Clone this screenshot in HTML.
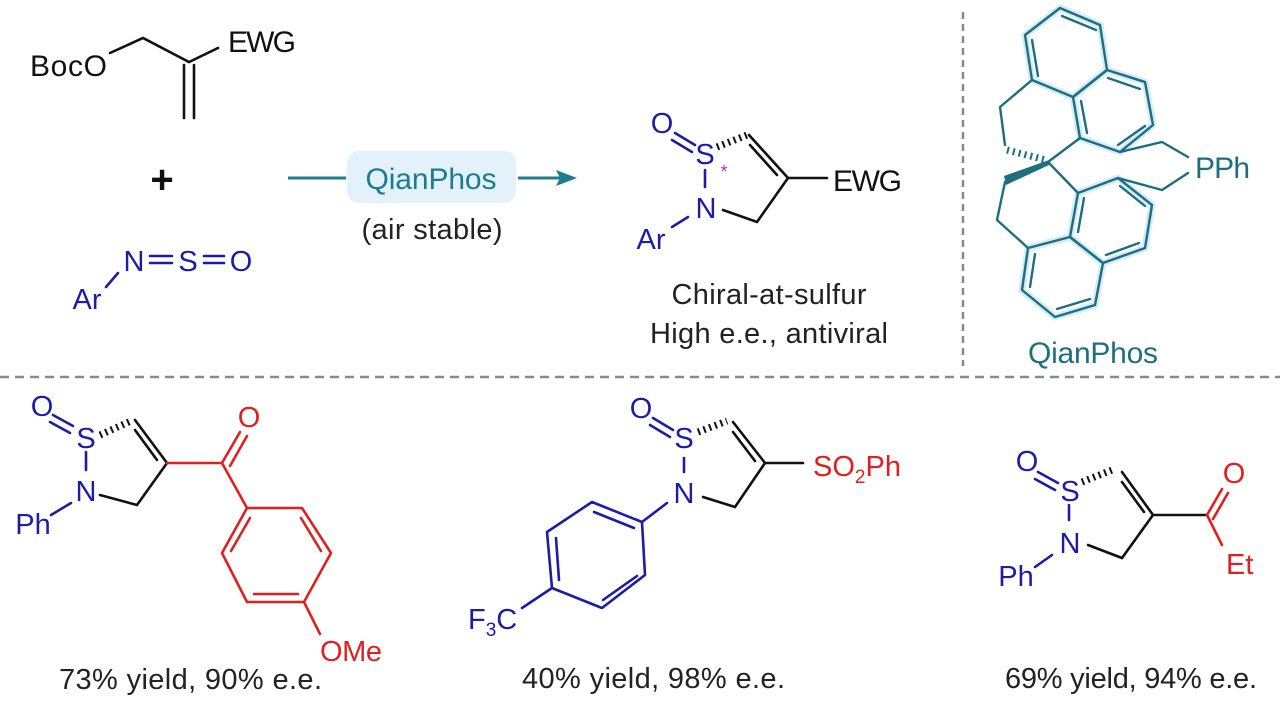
<!DOCTYPE html>
<html><head><meta charset="utf-8"><style>
html,body{margin:0;padding:0;background:#fff;}
svg{display:block;}
text{font-family:"Liberation Sans",Arial,sans-serif;}
</style></head><body>
<svg width="1280" height="710" viewBox="0 0 1280 710" xmlns="http://www.w3.org/2000/svg">
<!-- dividers -->
<line x1="963" y1="12" x2="963" y2="366" stroke="#8a8a8a" stroke-width="2.5" stroke-dasharray="7,5"/>
<line x1="0" y1="377" x2="1280" y2="377" stroke="#8a8a8a" stroke-width="2.5" stroke-dasharray="9,6"/>

<!-- starting allyl carbonate -->
<g stroke="#111" stroke-width="2.6" fill="none" stroke-linecap="round">
<polyline points="110,53 143,38 189,62 218,48"/>
<line x1="184" y1="65" x2="184" y2="118"/>
<line x1="194" y1="65" x2="194" y2="118"/>
</g>
<text x="30" y="76" font-size="30" fill="#111" textLength="77">BocO</text>
<text x="228" y="52" font-size="30" fill="#111" textLength="68">EWG</text>
<text x="162" y="193" font-size="40" fill="#111" text-anchor="middle" font-weight="bold">+</text>

<!-- N=S=O -->
<g fill="#1c1ca6" font-size="29" text-anchor="middle">
<text x="134" y="271">N</text><text x="188" y="271">S</text><text x="241" y="271">O</text>
<text x="87" y="309">Ar</text>
</g>
<g stroke="#1c1ca6" stroke-width="2.6" stroke-linecap="round">
<line x1="150" y1="256" x2="172" y2="256"/><line x1="150" y1="263" x2="172" y2="263"/>
<line x1="204" y1="256" x2="224" y2="256"/><line x1="204" y1="263" x2="224" y2="263"/>
<line x1="106" y1="287" x2="118" y2="273"/>
</g>

<!-- arrow -->
<line x1="288" y1="178" x2="346" y2="178" stroke="#1f7b8f" stroke-width="3"/>
<rect x="347" y="151" width="169" height="52" rx="12" fill="#e3f2fa"/>
<text x="431" y="189" font-size="30" fill="#1f7b8f" text-anchor="middle" textLength="131">QianPhos</text>
<line x1="518" y1="178" x2="560" y2="178" stroke="#1f7b8f" stroke-width="3"/>
<polygon points="577,178 556,170 560,178 556,186" fill="#1f7b8f"/>
<text x="432" y="239" font-size="29" fill="#222" text-anchor="middle" textLength="141">(air stable)</text>

<!-- product top -->
<g stroke="#1c1ca6" stroke-width="2.6" stroke-linecap="round">
<line x1="675" y1="133" x2="695" y2="145"/><line x1="672" y1="140" x2="692" y2="152"/>
<line x1="705" y1="170" x2="705" y2="187"/>
<line x1="672" y1="227" x2="688" y2="217"/>
</g>
<line x1="717" y1="147" x2="747" y2="135" stroke="#111" stroke-width="7" stroke-dasharray="2,4"/>
<g stroke="#111" stroke-width="2.6" stroke-linecap="round" fill="none">
<line x1="749" y1="135" x2="788" y2="178"/>
<line x1="750" y1="145" x2="777" y2="175"/>
<line x1="788" y1="178" x2="827" y2="178"/>
<polyline points="788,178 757,222 723,210"/>
</g>
<g fill="#1c1ca6" font-size="29" text-anchor="middle">
<text x="662" y="133">O</text><text x="705" y="164">S</text><text x="706" y="218">N</text>
<text x="651" y="249">Ar</text>
</g>
<text x="724" y="178" font-size="18" fill="#c0309a" text-anchor="middle">*</text>
<text x="833" y="191" font-size="30" fill="#111" textLength="69">EWG</text>
<text x="769" y="304" font-size="29" fill="#222" text-anchor="middle" textLength="195">Chiral-at-sulfur</text>
<text x="769" y="343" font-size="29" fill="#222" text-anchor="middle" textLength="238">High e.e., antiviral</text>

<!-- QianPhos structure -->
<g stroke="#d4ecf5" stroke-width="7" fill="none" stroke-linejoin="round" stroke-linecap="round">
<polygon points="1060,8 1100,25 1107,70 1073,97 1032,80 1025,35"/>
<polygon points="1107,70 1145,82 1153,125 1120,152 1080,138 1073,97"/>
<polygon points="1078,193 1118,178 1152,205 1145,248 1103,263 1070,237"/>
<polygon points="1070,237 1028,248 1022,290 1055,317 1095,305 1103,263"/>
</g>
<g stroke="#1d6e80" stroke-width="2.4" fill="none" stroke-linejoin="round" stroke-linecap="round">
<polygon points="1060,8 1100,25 1107,70 1073,97 1032,80 1025,35"/>
<polygon points="1107,70 1145,82 1153,125 1120,152 1080,138 1073,97"/>
<polygon points="1078,193 1118,178 1152,205 1145,248 1103,263 1070,237"/>
<polygon points="1070,237 1028,248 1022,290 1055,317 1095,305 1103,263"/>
<line x1="1062" y1="16" x2="1096" y2="30"/>
<line x1="1032" y1="40" x2="1038" y2="76"/>
<line x1="1108" y1="78" x2="1140" y2="89"/>
<line x1="1145" y1="126" x2="1118" y2="145"/>
<line x1="1087" y1="133" x2="1081" y2="101"/>
<line x1="1120" y1="186" x2="1145" y2="206"/>
<line x1="1139" y1="243" x2="1106" y2="255"/>
<line x1="1078" y1="232" x2="1084" y2="198"/>
<line x1="1035" y1="254" x2="1030" y2="287"/>
<line x1="1057" y1="309" x2="1090" y2="299"/>
<polyline points="1032,80 1000,107 1005,145"/>
<line x1="1048" y1="162" x2="1080" y2="138"/>
<line x1="1048" y1="162" x2="1078" y2="193"/>
<polyline points="1005,182 997,220 1028,248"/>
<polyline points="1120,152 1162,142 1188,157"/>
<polyline points="1118,178 1162,190 1188,173"/>
</g>
<line x1="1007" y1="150" x2="1046" y2="160" stroke="#1d6e80" stroke-width="7" stroke-dasharray="2,4"/>
<polygon points="1049,160 1049,165 1006,185 1004,176" fill="#1d6e80"/>
<text x="1195" y="178" font-size="30" fill="#1d6e80" textLength="55">PPh</text>
<text x="1093" y="363" font-size="30" fill="#1d6e80" text-anchor="middle" textLength="130">QianPhos</text>

<!-- bottom 1 -->
<g stroke="#1c1ca6" stroke-width="2.6" stroke-linecap="round">
<line x1="53" y1="415" x2="73" y2="426"/><line x1="50" y1="422" x2="70" y2="433"/>
<line x1="86" y1="452" x2="86" y2="470"/>
<line x1="51" y1="515" x2="71" y2="503"/>
</g>
<line x1="100" y1="435" x2="131" y2="421" stroke="#111" stroke-width="7" stroke-dasharray="2,4"/>
<g stroke="#111" stroke-width="2.6" stroke-linecap="round" fill="none">
<line x1="135" y1="420" x2="167" y2="463"/>
<line x1="135" y1="430" x2="157" y2="460"/>
<polyline points="167,463 137,505 100,495"/>
</g>
<g stroke="#e02020" stroke-width="2.6" stroke-linecap="round" fill="none" stroke-linejoin="round">
<line x1="167" y1="463" x2="222" y2="463"/>
<line x1="222" y1="463" x2="240" y2="432"/>
<line x1="230" y1="466" x2="247" y2="436"/>
<polygon points="247,508 302,508 331,553 304,602 247,602 222,553"/>
<line x1="222" y1="463" x2="247" y2="508"/>
<line x1="301" y1="518" x2="321" y2="551"/>
<line x1="254" y1="594" x2="298" y2="594"/>
<line x1="231" y1="551" x2="250" y2="518"/>
<line x1="304" y1="602" x2="320" y2="634"/>
</g>
<g fill="#1c1ca6" font-size="29" text-anchor="middle">
<text x="42" y="416">O</text><text x="86" y="448">S</text><text x="86" y="501">N</text>
<text x="33" y="534">Ph</text>
</g>
<text x="249" y="427" font-size="29" fill="#e02020" text-anchor="middle">O</text>
<text x="320" y="661" font-size="29" fill="#e02020" textLength="62">OMe</text>
<text x="59" y="689" font-size="29" fill="#222" textLength="263">73% yield, 90% e.e.</text>

<!-- bottom 2 -->
<g stroke="#1c1ca6" stroke-width="2.6" stroke-linecap="round" fill="none" stroke-linejoin="round">
<line x1="653" y1="418" x2="673" y2="430"/><line x1="650" y1="425" x2="670" y2="437"/>
<line x1="684" y1="458" x2="684" y2="472"/>
<line x1="667" y1="503" x2="642" y2="522"/>
<polygon points="642,522 645,575 602,608 552,588 547,532 592,502"/>
<line x1="594" y1="512" x2="634" y2="528"/>
<line x1="556" y1="538" x2="559" y2="580"/>
<line x1="637" y1="576" x2="603" y2="600"/>
<line x1="552" y1="588" x2="522" y2="608"/>
</g>
<line x1="698" y1="432" x2="727" y2="421" stroke="#111" stroke-width="7" stroke-dasharray="2,4"/>
<g stroke="#111" stroke-width="2.6" stroke-linecap="round" fill="none">
<line x1="733" y1="422" x2="765" y2="463"/>
<line x1="733" y1="432" x2="755" y2="461"/>
<line x1="765" y1="463" x2="803" y2="463"/>
<polyline points="765,463 735,507 703,497"/>
</g>
<g fill="#1c1ca6" font-size="29" text-anchor="middle">
<text x="641" y="418">O</text><text x="684" y="448">S</text><text x="684" y="503">N</text>
</g>
<text x="468" y="629" font-size="29" fill="#1c1ca6">F<tspan font-size="19" dy="7">3</tspan><tspan dy="-7">C</tspan></text>
<text x="813" y="476" font-size="29" fill="#e02020">SO<tspan font-size="19" dy="7">2</tspan><tspan dy="-7">Ph</tspan></text>
<text x="522" y="688" font-size="29" fill="#222" textLength="263">40% yield, 98% e.e.</text>

<!-- bottom 3 -->
<g stroke="#1c1ca6" stroke-width="2.6" stroke-linecap="round">
<line x1="1038" y1="472" x2="1058" y2="483"/><line x1="1035" y1="479" x2="1055" y2="490"/>
<line x1="1069" y1="505" x2="1069" y2="520"/>
<line x1="1035" y1="567" x2="1052" y2="555"/>
</g>
<line x1="1082" y1="482" x2="1112" y2="470" stroke="#111" stroke-width="7" stroke-dasharray="2,4"/>
<g stroke="#111" stroke-width="2.6" stroke-linecap="round" fill="none">
<line x1="1122" y1="472" x2="1153" y2="515"/>
<line x1="1122" y1="482" x2="1144" y2="512"/>
<line x1="1153" y1="515" x2="1207" y2="515"/>
<polyline points="1153,515 1122,558 1088,545"/>
</g>
<g stroke="#e02020" stroke-width="2.6" stroke-linecap="round">
<line x1="1207" y1="515" x2="1222" y2="489"/>
<line x1="1213" y1="519" x2="1228" y2="493"/>
<line x1="1207" y1="515" x2="1222" y2="545"/>
</g>
<g fill="#1c1ca6" font-size="29" text-anchor="middle">
<text x="1027" y="471">O</text><text x="1070" y="501">S</text><text x="1070" y="553">N</text>
<text x="1016" y="586">Ph</text>
</g>
<text x="1234" y="483" font-size="29" fill="#e02020" text-anchor="middle">O</text>
<text x="1226" y="574" font-size="29" fill="#e02020">Et</text>
<text x="1005" y="688" font-size="29" fill="#222" textLength="252">69% yield, 94% e.e.</text>
</svg>
</body></html>
